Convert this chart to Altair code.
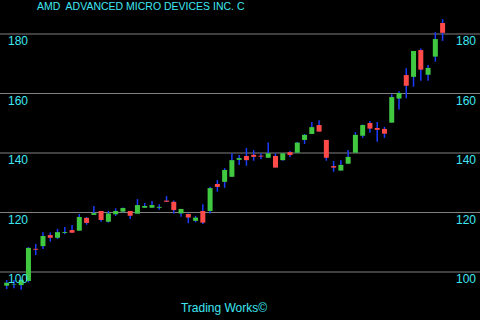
import altair as alt
import pandas as pd

# OHLC values (61 sessions)
opens = [95.4, 95.8, 95.6, 97.0, 107.8, 108.7, 112.4, 111.5, 113.1, 114.1,
         113.9, 118.2, 119.2, 120.5, 116.9, 119.4, 120.3, 120.5, 119.6, 121.6,
         121.6, 121.6, 124.0, 123.6, 119.7, 119.5, 117.2, 120.5, 120.5, 129.6,
         130.3, 132.0, 137.7, 139.0, 139.4, 139.1, 138.4, 139.0, 137.6, 140.3,
         140.1, 144.4, 146.4, 149.4, 144.4, 135.6, 134.1, 136.4, 140.1, 145.8,
         150.1, 148.4, 148.1, 150.2, 158.3, 166.2, 165.6, 174.6, 166.3, 172.4,
         183.7]
closes = [96.4, 96.0, 97.3, 108.1, 107.5, 112.1, 111.5, 113.4, 113.4, 113.2,
          118.5, 116.5, 119.8, 117.5, 119.7, 120.5, 121.5, 118.9, 122.5, 122.2,
          122.5, 121.9, 123.6, 120.8, 121.2, 118.3, 118.3, 116.6, 128.2, 128.6,
          134.3, 137.6, 138.3, 137.6, 138.7, 138.8, 139.9, 135.1, 139.9, 139.3,
          143.5, 146.1, 148.7, 147.2, 138.4, 135.1, 136.0, 138.7, 146.1, 149.4,
          148.2, 147.8, 146.5, 158.8, 160.2, 162.6, 174.3, 168.0, 168.6, 178.3,
          180.4]
highs = [97.3, 97.3, 97.6, 108.4, 109.4, 113.4, 113.3, 114.5, 115.1, 115.8,
         119.5, 118.5, 122.2, 120.5, 120.5, 121.4, 121.7, 120.5, 124.5, 123.2,
         123.9, 122.8, 125.5, 124.0, 121.2, 119.7, 118.9, 122.8, 128.7, 130.9,
         134.9, 139.9, 139.3, 141.7, 141.0, 139.9, 143.5, 139.9, 139.9, 140.7,
         143.7, 146.4, 150.4, 151.0, 144.4, 137.3, 137.6, 141.0, 147.0, 149.6,
         150.8, 150.4, 148.8, 159.7, 160.8, 168.5, 174.3, 175.1, 169.6, 180.6,
         185.0]
lows = [94.3, 94.5, 94.0, 96.5, 105.7, 107.7, 110.2, 111.1, 112.7, 113.2,
        113.9, 115.9, 119.2, 116.9, 116.6, 118.9, 120.1, 117.8, 119.6, 121.6,
        121.6, 120.9, 123.6, 119.7, 118.6, 116.4, 116.7, 116.1, 119.7, 127.0,
        128.3, 132.0, 136.0, 135.7, 137.4, 137.9, 138.4, 135.1, 137.4, 138.6,
        140.0, 143.0, 146.4, 147.2, 137.4, 133.7, 134.1, 136.4, 140.1, 145.1,
        146.8, 143.8, 145.1, 150.2, 154.6, 158.4, 162.3, 164.3, 164.3, 170.7,
        177.7]
ticks = [100, 120, 140, 160, 180]
title_text = "AMD\u00a0 ADVANCED MICRO DEVICES INC. C"
footer_text = "Trading Works\u00a9"

df = pd.DataFrame({
    "i": list(range(len(opens))),
    "open": opens, "close": closes, "high": highs, "low": lows,
})
df["dir"] = ["up" if c >= o else "down" for o, c in zip(opens, closes)]
tdf = pd.DataFrame({"v": ticks})

W, H = 480, 320
xs = alt.Scale(domain=[-0.229, 64.46], nice=False, zero=False)
ys = alt.Scale(domain=[83.87, 191.43], nice=False, zero=False)
CYAN = "#3fe6f2"

grid = alt.Chart(tdf).mark_rule(color="#808080", strokeWidth=1).encode(
    y=alt.Y("v:Q", scale=ys, axis=None),
    x=alt.value(0), x2=alt.value(W),
)
lab_left = alt.Chart(tdf).mark_text(
    align="left", baseline="top", dx=0, dy=2, color=CYAN,
    font="Liberation Sans", fontSize=12,
).encode(y=alt.Y("v:Q", scale=ys, axis=None), x=alt.value(8), text="v:N")
lab_right = alt.Chart(tdf).mark_text(
    align="left", baseline="top", dy=2, color=CYAN,
    font="Liberation Sans", fontSize=12,
).encode(y=alt.Y("v:Q", scale=ys, axis=None), x=alt.value(456), text="v:N")

wick = alt.Chart(df).mark_rule(color="#1a3cff", strokeWidth=1.5).encode(
    x=alt.X("i:Q", scale=xs, axis=None),
    y=alt.Y("low:Q", scale=ys, axis=None),
    y2="high:Q",
)
body = alt.Chart(df).mark_bar(size=5).encode(
    x=alt.X("i:Q", scale=xs, axis=None),
    y=alt.Y("open:Q", scale=ys, axis=None),
    y2="close:Q",
    color=alt.Color("dir:N", scale=alt.Scale(domain=["up", "down"],
                                             range=["#40c840", "#ff4a4a"]),
                    legend=None),
)

title = alt.Chart(pd.DataFrame({"t": [title_text]})).mark_text(
    align="left", baseline="middle", color=CYAN, font="Liberation Sans",
    fontSize=10.5,
).encode(x=alt.value(37), y=alt.value(7), text="t:N")
footer = alt.Chart(pd.DataFrame({"t": [footer_text]})).mark_text(
    align="center", baseline="middle", color=CYAN, font="Liberation Sans",
    fontSize=12,
).encode(x=alt.value(224), y=alt.value(308), text="t:N")

chart = alt.layer(grid, wick, body, lab_left, lab_right, title, footer).properties(
    width=W, height=H, background="black", padding=0,
    autosize=alt.AutoSizeParams(type="none"),
).configure_view(stroke=None)

chart.save("out.html", embed_options={"renderer": "svg", "actions": False})
